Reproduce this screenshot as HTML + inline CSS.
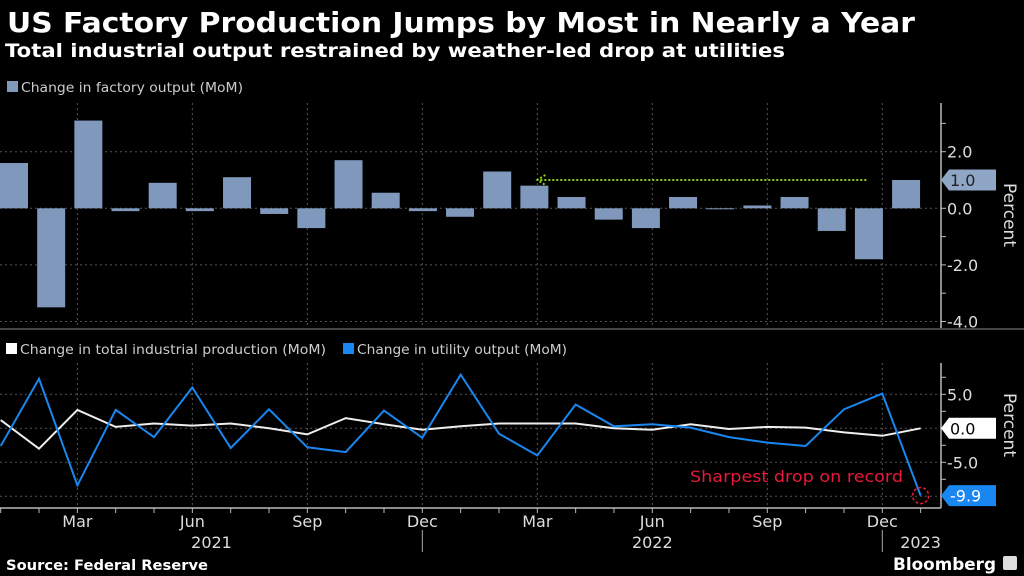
<!DOCTYPE html>
<html><head><meta charset="utf-8"><style>
html,body{margin:0;padding:0;background:#000;width:1024px;height:576px;overflow:hidden}
svg{display:block}
text{font-family:"DejaVu Sans","Liberation Sans",sans-serif}
</style></head><body>
<svg id="c" width="1024" height="576" viewBox="0 0 1024 576">
<text x="7" y="32" fill="#fff" font-size="28" font-weight="bold" textLength="908" lengthAdjust="spacingAndGlyphs">US Factory Production Jumps by Most in Nearly a Year</text>
<text x="5" y="57" fill="#fff" font-size="19" font-weight="bold" textLength="780" lengthAdjust="spacingAndGlyphs">Total industrial output restrained by weather-led drop at utilities</text>
<g>
<rect x="7" y="81" width="11" height="11" fill="#7f98bc"/>
<text x="21" y="92" fill="#ccc" font-size="13" textLength="222" lengthAdjust="spacingAndGlyphs">Change in factory output (MoM)</text>
</g>
<g>
<rect x="6" y="343" width="11" height="11" fill="#fff"/>
<text x="20" y="354" fill="#ccc" font-size="13" textLength="306" lengthAdjust="spacingAndGlyphs">Change in total industrial production (MoM)</text>
<rect x="343" y="343" width="11" height="11" fill="#1a86f0"/>
<text x="357" y="354" fill="#ccc" font-size="13" textLength="210" lengthAdjust="spacingAndGlyphs">Change in utility output (MoM)</text>
</g>
<g id="topPanel"></g>
<g id="botPanel"></g>
<g id="xa"></g>
<text x="6" y="570" fill="#fff" font-size="14" font-weight="bold" textLength="202" lengthAdjust="spacingAndGlyphs">Source: Federal Reserve</text>
<text x="893" y="570" fill="#fff" font-size="17" font-weight="bold" textLength="103" lengthAdjust="spacingAndGlyphs">Bloomberg</text>
<rect x="1003" y="556" width="14" height="14" rx="2" fill="#ddd"/>
</svg>
<script>
const months = ["Jan","Feb","Mar","Apr","May","Jun","Jul","Aug","Sep","Oct","Nov","Dec","Jan","Feb","Mar","Apr","May","Jun","Jul","Aug","Sep","Oct","Nov","Dec","Jan"];
const factory = [1.6,-3.5,3.1,-0.1,0.9,-0.1,1.1,-0.2,-0.7,1.7,0.55,-0.1,-0.3,1.3,0.8,0.4,-0.4,-0.7,0.4,-0.02,0.1,0.4,-0.8,-1.8,1.0];
const totalIP = [1.2,-3.0,2.7,0.2,0.7,0.4,0.7,0.0,-0.9,1.5,0.6,-0.2,0.3,0.7,0.7,0.7,0.0,-0.2,0.6,-0.1,0.2,0.1,-0.6,-1.1,0.0];
const utility = [-2.6,7.3,-8.4,2.7,-1.3,6.0,-2.9,2.8,-2.8,-3.5,2.6,-1.4,7.9,-0.8,-4.0,3.5,0.3,0.6,0.1,-1.3,-2.1,-2.6,2.8,5.1,-9.9];
const topTicks = [2,0,-2,-4];
const botTicks = [5,0,-5];
const quarterLabels = ["Mar","Jun","Sep","Dec","Mar","Jun","Sep","Dec"];
const quarterIdx = [2,5,8,11,14,17,20,23];
const years = [["2021",5.5],["2022",17],["2023",24]];

const NS="http://www.w3.org/2000/svg";
function mk(p,t,a){const e=document.createElementNS(NS,t);for(const k in a)e.setAttribute(k,a[k]);p.appendChild(e);return e;}
const xT=i=>0.7+i*38.33;
const xB=i=>i*37.17;
const yT=v=>208.3-v*28.3;
const yB=v=>428.3-v*6.8;
const topG=document.getElementById('topPanel'),botG=document.getElementById('botPanel'),xa=document.getElementById('xa');
const AX=941;
quarterIdx.forEach(i=>{
  let g=mk(topG,'line',{x1:xT(i),x2:xT(i),y1:103,y2:328,stroke:'#555','stroke-dasharray':'2,3','stroke-width':1});
  
  
  let h=mk(botG,'line',{x1:xT(i),x2:xT(i),y1:363,y2:507,stroke:'#555','stroke-dasharray':'2,3','stroke-width':1});
  
  
});
[2,0,-2,-4].forEach(v=>{
  let g=mk(topG,'line',{x1:0,x2:AX,y1:yT(v),y2:yT(v),stroke:'#555','stroke-dasharray':'2,3'});
  
  
});
[5,0,-5,-10].forEach(v=>{
  let g=mk(botG,'line',{x1:0,x2:AX,y1:yB(v),y2:yB(v),stroke:'#555','stroke-dasharray':'2,3'});
  
  
});
let sep=mk(topG,'line',{x1:0,x2:1024,y1:329,y2:329,stroke:'#444','stroke-width':2});


factory.forEach((v,i)=>{
  const y0=yT(0),y1=yT(v);
  let r=mk(topG,'rect',{x:xB(i),width:28,y:Math.min(y0,y1),height:Math.max(1,Math.abs(y1-y0)),fill:'#7f98bc'});
  
  
});
let gl=mk(topG,'line',{x1:xT(14)+3,x2:868,y1:yT(1.0),y2:yT(1.0),stroke:'#8ccf1a','stroke-width':2,'stroke-dasharray':'2,2'});


let ga=mk(topG,'path',{d:`M${xT(14)+8},${yT(1)-5} L${xT(14)},${yT(1)} L${xT(14)+8},${yT(1)+5}`,stroke:'#8ccf1a','stroke-width':2,fill:'none','stroke-dasharray':'2,2'});


[[103,328],[363,508]].forEach(([a,b],k)=>{
  let l=mk(k?botG:topG,'line',{x1:AX,x2:AX,y1:a,y2:b,stroke:'#bbb','stroke-width':1.5});
  
  
});
for(let v=3;v>=-4;v--){let t=mk(topG,'line',{x1:AX,x2:AX+5,y1:yT(v),y2:yT(v),stroke:'#bbb'});
  
  }
for(let v=7.5;v>=-10;v-=2.5){let t=mk(botG,'line',{x1:AX,x2:AX+5,y1:yB(v),y2:yB(v),stroke:'#bbb'});
  
  }
topTicks.forEach(v=>{
  let t=mk(topG,'text',{x:947,y:yT(v)+6,fill:'#ddd','font-size':16});t.textContent=v.toFixed(1);
  
  
});
botTicks.forEach(v=>{
  let t=mk(botG,'text',{x:947,y:yB(v)+6,fill:'#ddd','font-size':16});t.textContent=v.toFixed(1);
  
  
});
function tag(p,v,yf,bg,fg,name){
  const y=yf(v);
  let r=mk(p,'path',{d:`M941,${y} L949,${y-10.5} L996,${y-10.5} L996,${y+10.5} L949,${y+10.5} Z`,fill:bg});
  
  
  let t=mk(p,'text',{x:950,y:y+6,fill:fg,'font-size':16});t.textContent=v.toFixed(1);
  
  
}
tag(topG,factory[24],yT,'#8fa6c6','#222','factory-last-value');
tag(botG,totalIP[24],yB,'#fff','#000','total-last-value');
tag(botG,utility[24],yB,'#1a86f0','#fff','utility-last-value');
[["Percent",215],["Percent",425]].forEach(([s,cy])=>{
  let t=mk(topG,'text',{x:0,y:0,fill:'#ddd','font-size':17,'text-anchor':'middle',transform:`translate(1004,${cy}) rotate(90)`});t.textContent=s;
  
  
});
function line(arr,col,name){
  let d=arr.map((v,i)=>(i?'L':'M')+xT(i).toFixed(1)+','+yB(v).toFixed(1)).join(' ');
  let p=mk(botG,'path',{d,stroke:col,'stroke-width':2,fill:'none'});
  
  
}
line(totalIP,'#eee','total-production-line');
line(utility,'#1a86f0','utility-output-line');
let ci=mk(botG,'circle',{cx:xT(24),cy:yB(utility[24]),r:8,fill:'none',stroke:'#e8193c','stroke-width':1.5,'stroke-dasharray':'3,2'});


let an=mk(botG,'text',{x:690,y:482,fill:'#e8193c','font-size':16,textLength:213,lengthAdjust:'spacingAndGlyphs'});an.textContent='Sharpest drop on record';


let xl=mk(xa,'line',{x1:0,x2:AX,y1:508,y2:508,stroke:'#bbb','stroke-width':1.5});


months.forEach((m,i)=>{let t=mk(xa,'line',{x1:xT(i),x2:xT(i),y1:508,y2:513,stroke:'#bbb'});
  
  });
quarterIdx.forEach((i,k)=>{
  let t=mk(xa,'text',{x:xT(i),y:527,fill:'#ddd','font-size':16,'text-anchor':'middle'});t.textContent=quarterLabels[k];
  
  
});
years.forEach(([y,i])=>{
  let t=mk(xa,'text',{x:xT(i),y:548,fill:'#ddd','font-size':16,'text-anchor':'middle'});t.textContent=y;
  
  
});
[11,23].forEach(i=>{let t=mk(xa,'line',{x1:xT(i),x2:xT(i),y1:530,y2:552,stroke:'#aaa'});
  
  });
</script>
</body></html>
